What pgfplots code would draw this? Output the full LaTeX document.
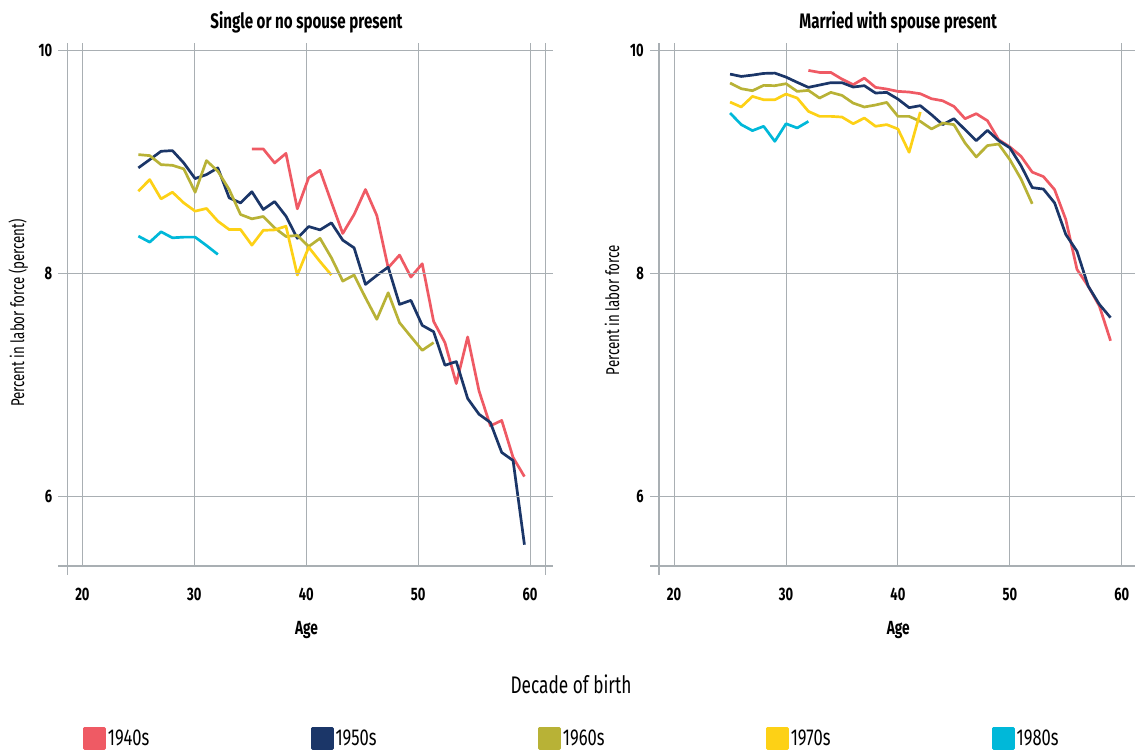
\documentclass[border=0pt]{standalone}
\usepackage{fontspec}
\setmainfont{Fira Sans}[FakeStretch=0.82]
\newfontfamily\cond{Fira Sans}[FakeStretch=0.72]
\usepackage{pgfplots}
\pgfplotsset{compat=1.18}
\usepackage{pgfplotstable}

\definecolor{c40}{HTML}{EF5A64}
\definecolor{c50}{HTML}{1B3668}
\definecolor{c60}{HTML}{B8B236}
\definecolor{c70}{HTML}{FDD116}
\definecolor{c80}{HTML}{00B8D9}
\definecolor{gridc}{HTML}{A9AFB3}

% Single or no spouse present
\pgfplotstableread{
age y40 y50 y60 y70 y80
25 nan 8.950 9.069 8.741 8.338
26 nan 9.024 9.060 8.845 8.284
27 nan 9.099 8.979 8.672 8.377
28 nan 9.105 8.973 8.732 8.323
29 nan 8.994 8.941 8.636 8.329
30 nan 8.854 8.732 8.562 8.329
31 nan 8.890 9.015 8.586 8.254
32 nan 8.950 8.920 8.472 8.174
33 nan 8.681 8.756 8.397 nan
34 nan 8.636 8.532 8.397 nan
35 9.120 8.736 8.493 8.257 nan
36 9.120 8.577 8.514 8.390 nan
37 8.994 8.648 8.412 8.394 nan
38 9.080 8.517 8.335 8.427 nan
39 8.583 8.318 8.344 7.989 nan
40 8.862 8.424 8.245 8.238 nan
41 8.928 8.394 8.318 8.110 nan
42 8.642 8.457 8.144 7.989 nan
43 8.362 8.302 7.935 nan nan
44 8.532 8.233 7.989 nan nan
45 8.756 7.905 7.786 nan nan
46 8.523 7.986 7.592 nan nan
47 8.054 8.060 7.830 nan nan
48 8.168 7.726 7.562 nan nan
49 7.971 7.762 7.437 nan nan
50 8.090 7.538 7.314 nan nan
51 7.574 7.481 7.383 nan nan
52 7.383 7.180 nan nan nan
53 7.016 7.213 nan nan nan
54 7.434 6.882 nan nan nan
55 6.950 6.741 nan nan nan
56 6.637 6.667 nan nan nan
57 6.685 6.398 nan nan nan
58 6.353 6.326 nan nan nan
59 6.182 5.571 nan nan nan
}\single

% Married with spouse present
\pgfplotstableread{
age y40 y50 y60 y70 y80
25 nan 9.791 9.711 9.540 9.442
26 nan 9.770 9.660 9.496 9.338
27 nan 9.782 9.642 9.591 9.284
28 nan 9.797 9.690 9.561 9.323
29 nan 9.800 9.687 9.561 9.188
30 nan 9.764 9.705 9.612 9.346
31 nan 9.717 9.636 9.576 9.308
32 9.824 9.672 9.645 9.457 9.367
33 9.806 9.693 9.576 9.412 nan
34 9.806 9.714 9.627 9.412 nan
35 9.746 9.714 9.600 9.406 nan
36 9.696 9.675 9.531 9.346 nan
37 9.755 9.687 9.496 9.397 nan
38 9.672 9.621 9.514 9.323 nan
39 9.657 9.627 9.537 9.338 nan
40 9.636 9.567 9.412 9.299 nan
41 9.630 9.490 9.412 9.090 nan
42 9.615 9.508 9.367 9.451 nan
43 9.570 9.427 9.299 nan nan
44 9.552 9.338 9.352 nan nan
45 9.502 9.391 9.338 nan nan
46 9.391 9.293 9.173 nan nan
47 9.436 9.194 9.048 nan nan
48 9.373 9.287 9.150 nan nan
49 9.203 9.194 9.164 nan nan
50 9.138 9.130 9.024 nan nan
51 9.054 8.970 8.850 nan nan
52 8.912 8.773 8.628 nan nan
53 8.872 8.760 nan nan nan
54 8.755 8.636 nan nan nan
55 8.487 8.353 nan nan nan
56 8.040 8.203 nan nan nan
57 7.890 7.890 nan nan nan
58 7.711 7.726 nan nan nan
59 7.400 7.607 nan nan nan
}\married

\pgfplotsset{panel/.style={
  scale only axis, width=478.4pt, height=523pt,
  xmin=18.65, xmax=61.4, ymin=5.38, ymax=10.07,
  xtick={20,30,40,50,60}, ytick={6,8,10},
  grid=major, grid style={gridc, line width=1pt},
  axis x line*=bottom, axis y line*=box,
  axis line style={gridc, line width=1.2pt},
  major tick length=0pt, tick style={draw=none},
  /pgf/number format/assume math mode=true,
  ticklabel style={font=\cond\fontsize{18}{20}\selectfont\bfseries},
  xticklabel style={anchor=center, inner sep=0pt, yshift=-28pt},
  yticklabel style={anchor=east, inner sep=0pt, xshift=-15pt},
  clip=false,
  every axis plot/.append style={line width=2.7pt, line join=round, mark=none},
  title style={font=\cond\fontsize{21}{23}\selectfont\bfseries, at={(axis description cs:0.5,1.0287)}, anchor=center},
  xlabel style={font=\cond\fontsize{19}{21}\selectfont\bfseries, at={(axis description cs:0.5,-0.1215)}, anchor=center},
  ylabel style={font=\cond\fontsize{18.5}{20}\selectfont},
  xlabel={Age},
}}

\newcommand{\extlines}{%
  \draw[gridc, line width=1pt] (17.85,10) -- (62.07,10);
  \draw[gridc, line width=1pt] (17.85,8) -- (62.07,8);
  \draw[gridc, line width=1pt] (17.85,6) -- (62.07,6);
  \draw[gridc, line width=1.2pt] (17.85,5.38) -- (62.07,5.38);
  \draw[gridc, line width=1.2pt] (18.65,5.38) -- (18.65,5.30);
  \draw[gridc, line width=1.2pt] (61.4,5.38) -- (61.4,5.30);
}

\begin{document}
\begin{tikzpicture}
\begin{axis}[panel,
  at={(67.3pt,185pt)}, anchor=south west,
  title={Single or no spouse present},
  ylabel={Percent in labor force (percent)},
  ylabel style={at={(axis description cs:-0.1024,0.4834)}, anchor=center},
  legend columns=5,
  legend style={at={(axis description cs:0.0328,-0.3079)}, anchor=north west,
    draw=none, fill=none, inner sep=0pt,
    nodes={inner ysep=0pt},
    font=\cond\fontsize{23}{25}\selectfont,
    /tikz/every even column/.append style={column sep=159.5pt}},
  legend image code/.code={\fill[#1] (0pt,-10pt) rectangle (20pt,10pt);},
]
\addplot[c40] table[x expr={25+(\thisrow{age}-25)*1.0147}, y=y40] {\single};
\addplot[c50] table[x expr={25+(\thisrow{age}-25)*1.0147}, y=y50] {\single};
\addplot[c60] table[x expr={25+(\thisrow{age}-25)*1.0147}, y=y60] {\single};
\addplot[c70] table[x expr={25+(\thisrow{age}-25)*1.0147}, y=y70] {\single};
\addplot[c80] table[x expr={25+(\thisrow{age}-25)*1.0147}, y=y80] {\single};
\legend{1940s,1950s,1960s,1970s,1980s}
\extlines
\end{axis}

\begin{axis}[panel,
  at={(659pt,185pt)}, anchor=south west,
  title={Married with spouse present},
  ylabel={Percent in labor force},
  ylabel style={at={(axis description cs:-0.098,0.489)}, anchor=center},
]
\addplot[c40] table[x=age, y=y40] {\married};
\addplot[c50] table[x=age, y=y50] {\married};
\addplot[c60] table[x=age, y=y60] {\married};
\addplot[c70] table[x=age, y=y70] {\married};
\addplot[c80] table[x=age, y=y80] {\married};
\extlines
\end{axis}

\node[font=\cond\fontsize{24}{26}\selectfont, anchor=center] at (571pt,67pt) {Decade of birth};

\pgfresetboundingbox
\path (0,0) rectangle (1135pt,751pt);
\end{tikzpicture}
\end{document}
